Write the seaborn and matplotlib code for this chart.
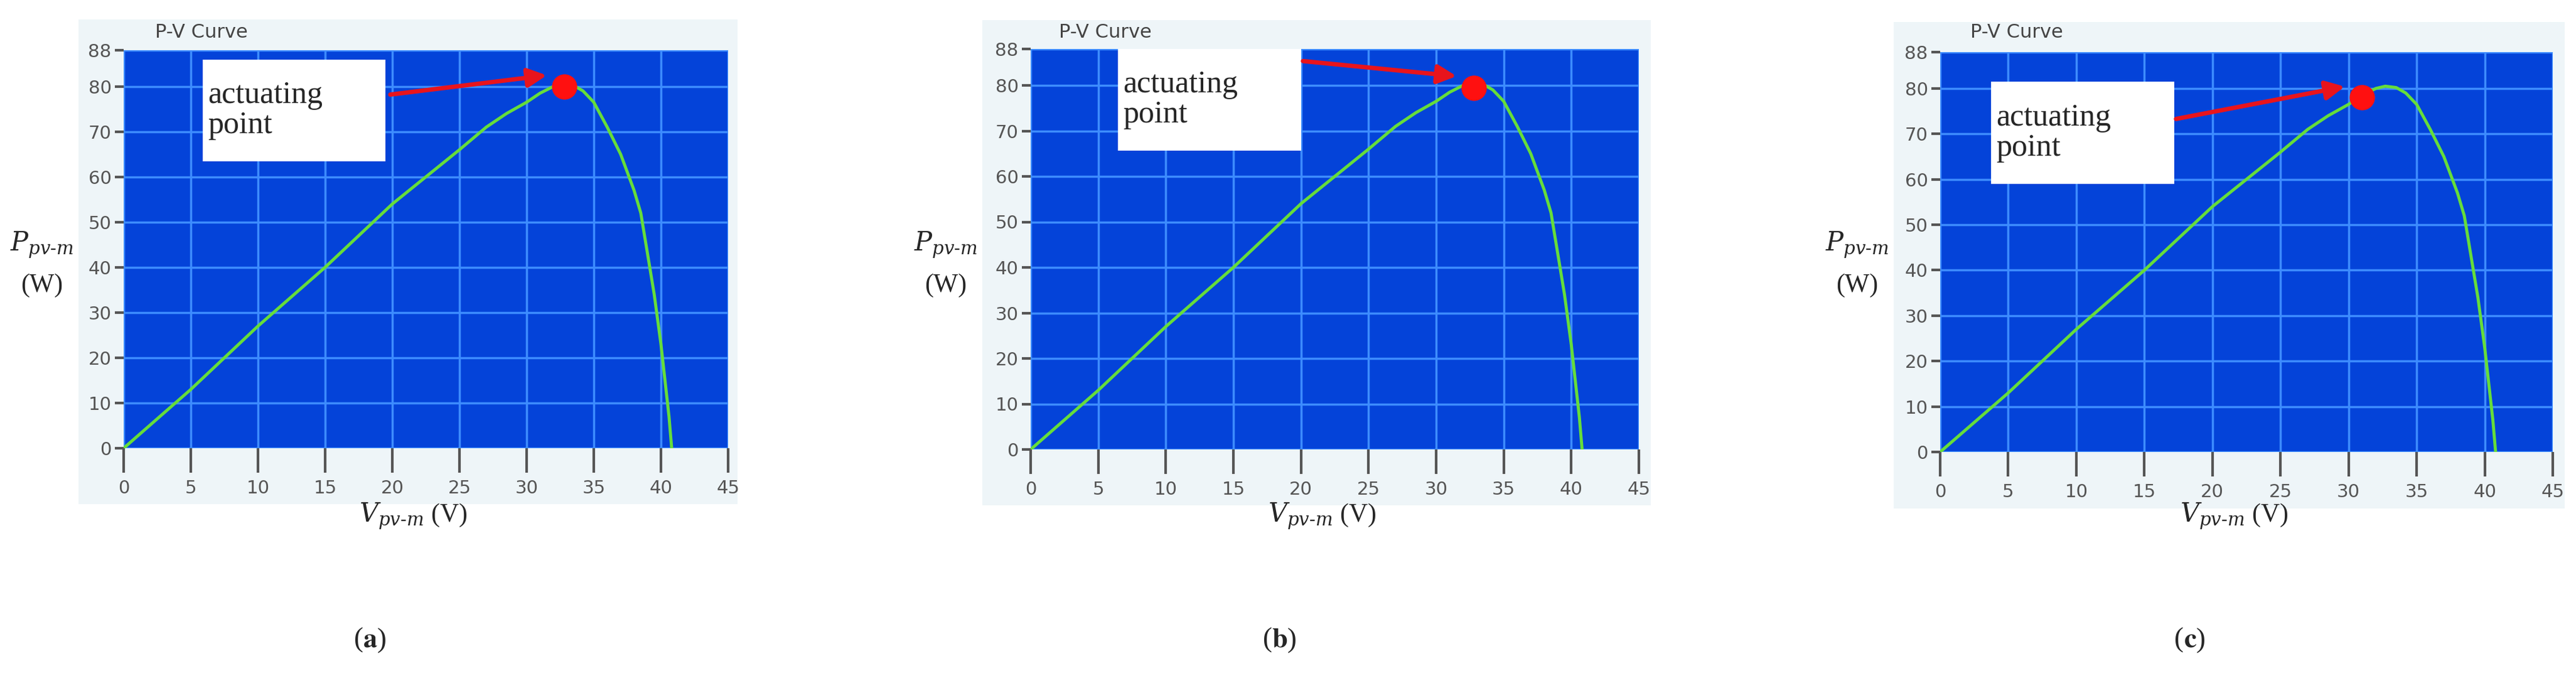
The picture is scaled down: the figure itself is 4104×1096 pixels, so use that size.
import matplotlib
matplotlib.use("Agg")
import matplotlib.pyplot as plt
from matplotlib.patches import Rectangle
import seaborn as sns
import pandas as pd

sns.set_style("white")
plt.rcParams['font.family'] = ['DejaVu Sans']

voltage = [0, 2.5, 5, 7.5, 10, 12.5, 15, 17.5, 20, 22.5, 25, 27, 28.5, 30, 31, 32, 32.7, 33.5, 34.2, 35, 36, 37, 37.5, 38, 38.5, 39, 39.5, 40, 40.3, 40.6, 40.8]
power = [0, 6.5, 13, 20, 27, 33.5, 40, 47, 54, 60, 66, 71, 74, 76.5, 78.5, 80, 80.5, 80.2, 79, 76.5, 71, 65, 61, 57, 52, 43, 34, 23, 15, 7, 0]
panel_labels = ["a", "b", "c"]
op_v = [32.8, 32.8, 31.0]
op_p = [80.0, 79.5, 78.0]
x_ticks = [0, 5, 10, 15, 20, 25, 30, 35, 40, 45]
y_ticks = [0, 10, 20, 30, 40, 50, 60, 70, 80, 88]

W, H = 4104, 1096
fig = plt.figure(figsize=(W / 100, H / 100), dpi=100)

def fx(px): return px / W
def fy(py): return 1 - py / H

axes_px = [(197, 1160, 80, 714), (1642, 2611, 78, 716), (3091, 4067, 83, 720)]
frame_px = [(125, 1175, 31, 803), (1565, 2630, 32, 805), (3017, 4086, 35, 810)]
box_px = [(323, 614, 95, 257), (1781, 2073, 78, 240), (3172, 3464, 130, 293)]
arrow_start = [(619, 151), (2073, 97), (3464, 190)]

df = pd.DataFrame({"V": voltage, "P": power})

for i in range(3):
    fl, fr, ft, fb = frame_px[i]
    fig.patches.append(Rectangle((fx(fl), fy(fb)), fx(fr - fl), (fb - ft) / H,
                                 transform=fig.transFigure, facecolor="#eef5f8",
                                 edgecolor="none", zorder=-5))
    l, r, t, b = axes_px[i]
    ax = fig.add_axes([fx(l), fy(b), fx(r - l), (b - t) / H])
    ax.set_zorder(1)
    ax.set_facecolor("#0443d9")
    sns.lineplot(data=df, x="V", y="P", ax=ax, color="#66dd3a", linewidth=3.5, zorder=3)
    ax.plot([op_v[i]], [op_p[i]], 'o', color="#ff1010", markersize=28, zorder=4)
    ax.set_xlim(0, 45)
    ax.set_ylim(0, 88)
    ax.set_xticks(x_ticks)
    ax.set_yticks(y_ticks)
    ax.grid(True, color="#3d8cff", linewidth=2.5)
    ax.set_axisbelow(True)
    for s in ax.spines.values():
        s.set_visible(False)
    ax.tick_params(axis='y', length=10, width=3, color="#555555", labelcolor="#555555",
                   labelsize=21, pad=4, left=True)
    ax.tick_params(axis='x', length=28, width=3, color="#555555", labelcolor="#555555",
                   labelsize=21, pad=8, bottom=True)
    ax.set_xlabel("")
    ax.set_ylabel("")
    fig.text(fx(fl + 122), fy(51), "P-V Curve", fontsize=22, color="#444444",
             ha="left", va="center")
    fig.text(fx(fl - 58), fy(390), r"$P_{pv\text{-}m}$", fontsize=30, ha="center", va="center",
             family="DejaVu Serif", math_fontfamily="dejavuserif")
    fig.text(fx(fl - 58), fy(455), "(W)", fontsize=30, ha="center", va="center",
             family="Liberation Serif")
    cx = (l + r) / 2 - 20
    fig.text(fx(cx), fy(822), r"$V_{pv\text{-}m}$ (V)", fontsize=30, ha="center", va="center",
             family="Liberation Serif", math_fontfamily="dejavuserif")
    fig.text(fx(cx - 80), fy(1020), "(", fontsize=32, ha="right", va="center", family="Liberation Serif")
    fig.text(fx(cx - 80), fy(1020), r"$\mathbf{" + panel_labels[i] + "}$)", fontsize=32, ha="left",
             va="center", family="Liberation Serif", math_fontfamily="stix")
    bl, br, bt, bb = box_px[i]
    fig.patches.append(Rectangle((fx(bl), fy(bb)), fx(br - bl), (bb - bt) / H,
                                 transform=fig.transFigure, facecolor="white",
                                 edgecolor="none", zorder=5))
    fig.text(fx(bl + 8), fy((bt + bb) / 2), "actuating\npoint", fontsize=36, ha="left",
             va="center", family="Liberation Serif", linespacing=1.05, zorder=6)
    pt = ax.transData.transform((op_v[i], op_p[i]))
    ptf = fig.transFigure.inverted().transform(pt)
    sx, sy = arrow_start[i]
    ex = ptf[0] - fx(25)
    ey = ptf[1] + 18 / H
    fig.patches.append(matplotlib.patches.FancyArrowPatch(
        (fx(sx), fy(sy)), (ex, ey), transform=fig.transFigure,
        arrowstyle="-|>,head_length=18,head_width=9", color="#e8141c",
        linewidth=5, zorder=6))

fig.savefig("out.png", dpi=100, facecolor="white")
